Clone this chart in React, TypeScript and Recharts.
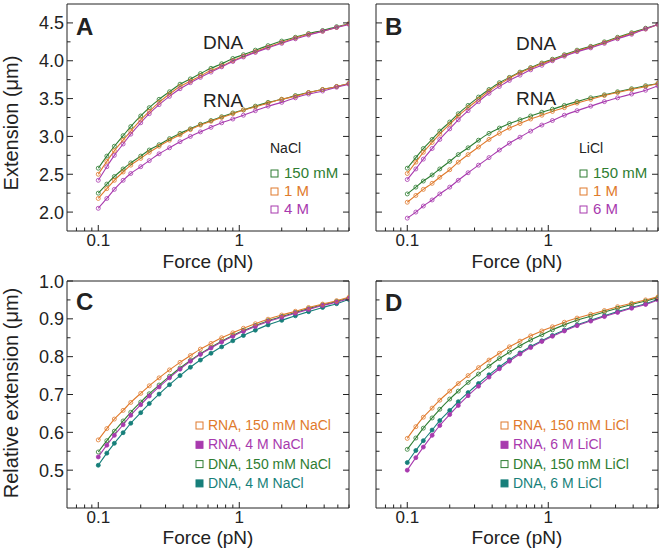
import { ComposedChart, Line, XAxis, YAxis, ReferenceLine } from 'recharts';

// forces (pN) where curves/points were read
const forces = [0.1, 0.115, 0.13, 0.15, 0.17, 0.2, 0.23, 0.27, 0.32, 0.38, 0.45, 0.53, 0.63, 0.75, 0.9, 1.07, 1.3, 1.6, 2, 2.5, 3.1, 3.9, 4.9, 6];

// Panel A - NaCl, extension (um)
const aDna150 = [2.58, 2.74, 2.87, 3.01, 3.13, 3.27, 3.38, 3.49, 3.59, 3.69, 3.76, 3.83, 3.90, 3.96, 4.03, 4.08, 4.14, 4.20, 4.26, 4.31, 4.36, 4.40, 4.45, 4.49];
const aDna1M = [2.50, 2.67, 2.81, 2.95, 3.07, 3.22, 3.33, 3.45, 3.56, 3.66, 3.73, 3.80, 3.87, 3.93, 4.00, 4.06, 4.12, 4.18, 4.24, 4.30, 4.35, 4.39, 4.44, 4.49];
const aDna4M = [2.42, 2.60, 2.75, 2.90, 3.03, 3.18, 3.30, 3.42, 3.53, 3.63, 3.71, 3.78, 3.85, 3.92, 3.99, 4.05, 4.11, 4.17, 4.23, 4.29, 4.34, 4.39, 4.44, 4.48];
const aRna150 = [2.25, 2.37, 2.47, 2.57, 2.65, 2.74, 2.82, 2.89, 2.97, 3.04, 3.10, 3.16, 3.21, 3.26, 3.31, 3.35, 3.40, 3.45, 3.49, 3.54, 3.58, 3.62, 3.66, 3.70];
const aRna1M = [2.18, 2.31, 2.42, 2.53, 2.62, 2.71, 2.79, 2.87, 2.95, 3.02, 3.09, 3.15, 3.20, 3.25, 3.30, 3.35, 3.39, 3.44, 3.49, 3.53, 3.58, 3.62, 3.66, 3.70];
const aRna4M = [2.05, 2.18, 2.30, 2.42, 2.51, 2.60, 2.68, 2.77, 2.85, 2.93, 3.00, 3.06, 3.12, 3.18, 3.23, 3.28, 3.34, 3.40, 3.45, 3.51, 3.56, 3.60, 3.65, 3.69];

// Panel B - LiCl, extension (um)
const bDna150 = [2.58, 2.72, 2.84, 2.96, 3.07, 3.19, 3.30, 3.41, 3.52, 3.62, 3.71, 3.78, 3.85, 3.91, 3.97, 4.02, 4.08, 4.14, 4.19, 4.25, 4.31, 4.37, 4.43, 4.48];
const bDna1M = [2.51, 2.66, 2.79, 2.92, 3.03, 3.16, 3.27, 3.38, 3.49, 3.60, 3.69, 3.77, 3.84, 3.90, 3.96, 4.01, 4.07, 4.13, 4.18, 4.24, 4.30, 4.36, 4.42, 4.48];
const bDna6M = [2.43, 2.57, 2.70, 2.84, 2.96, 3.10, 3.22, 3.34, 3.46, 3.57, 3.66, 3.74, 3.81, 3.88, 3.94, 4.00, 4.06, 4.12, 4.17, 4.23, 4.29, 4.35, 4.42, 4.48];
const bRna150 = [2.24, 2.33, 2.41, 2.49, 2.57, 2.67, 2.76, 2.85, 2.95, 3.04, 3.11, 3.17, 3.22, 3.27, 3.32, 3.36, 3.41, 3.46, 3.51, 3.55, 3.59, 3.63, 3.67, 3.70];
const bRna1M = [2.13, 2.22, 2.30, 2.38, 2.46, 2.56, 2.66, 2.76, 2.86, 2.96, 3.04, 3.11, 3.17, 3.23, 3.28, 3.33, 3.38, 3.44, 3.49, 3.54, 3.58, 3.62, 3.66, 3.70];
const bRna6M = [1.92, 2.00, 2.08, 2.16, 2.24, 2.33, 2.42, 2.52, 2.62, 2.72, 2.82, 2.91, 2.99, 3.07, 3.15, 3.21, 3.28, 3.34, 3.40, 3.46, 3.51, 3.56, 3.61, 3.67];

// Panel C - NaCl, relative extension
const cRna150 = [0.580, 0.610, 0.635, 0.658, 0.679, 0.703, 0.723, 0.744, 0.765, 0.785, 0.803, 0.820, 0.835, 0.850, 0.863, 0.875, 0.887, 0.899, 0.910, 0.920, 0.930, 0.939, 0.948, 0.957];
const cRna4M = [0.535, 0.566, 0.592, 0.620, 0.645, 0.673, 0.696, 0.720, 0.744, 0.767, 0.788, 0.806, 0.823, 0.839, 0.854, 0.867, 0.880, 0.893, 0.904, 0.915, 0.925, 0.935, 0.944, 0.954];
const cDna150 = [0.548, 0.578, 0.603, 0.630, 0.653, 0.680, 0.702, 0.725, 0.748, 0.770, 0.790, 0.808, 0.825, 0.841, 0.856, 0.869, 0.882, 0.895, 0.906, 0.917, 0.927, 0.937, 0.946, 0.955];
const cDna4M = [0.513, 0.545, 0.571, 0.599, 0.624, 0.652, 0.676, 0.701, 0.726, 0.750, 0.772, 0.791, 0.809, 0.826, 0.842, 0.856, 0.870, 0.884, 0.896, 0.908, 0.919, 0.930, 0.940, 0.951];

// Panel D - LiCl, relative extension
const dRna150 = [0.584, 0.615, 0.640, 0.664, 0.685, 0.709, 0.729, 0.750, 0.771, 0.791, 0.809, 0.826, 0.841, 0.855, 0.868, 0.879, 0.891, 0.902, 0.912, 0.922, 0.932, 0.941, 0.950, 0.958];
const dRna6M = [0.500, 0.533, 0.561, 0.592, 0.618, 0.647, 0.671, 0.697, 0.722, 0.746, 0.768, 0.788, 0.807, 0.824, 0.840, 0.854, 0.868, 0.882, 0.894, 0.906, 0.917, 0.928, 0.938, 0.950];
const dDna150 = [0.555, 0.585, 0.611, 0.638, 0.661, 0.688, 0.709, 0.732, 0.754, 0.775, 0.795, 0.812, 0.829, 0.844, 0.858, 0.871, 0.884, 0.896, 0.907, 0.918, 0.928, 0.938, 0.947, 0.956];
const dDna6M = [0.520, 0.552, 0.578, 0.606, 0.631, 0.658, 0.681, 0.705, 0.729, 0.752, 0.773, 0.792, 0.810, 0.827, 0.842, 0.856, 0.870, 0.884, 0.896, 0.908, 0.919, 0.930, 0.940, 0.952];

// tick values
const xTicks = [0.07, 0.08, 0.09, 0.1, 0.2, 0.3, 0.4, 0.5, 0.6, 0.7, 0.8, 0.9, 1, 2, 3, 4, 5, 6];
const xLabels = [0.1, 1];
const absTicks = [2.0, 2.25, 2.5, 2.75, 3.0, 3.25, 3.5, 3.75, 4.0, 4.25, 4.5];
const relTicks = [0.45, 0.5, 0.55, 0.6, 0.65, 0.7, 0.75, 0.8, 0.85, 0.9, 0.95, 1.0];

const GREEN = '#2e7d32';
const ORANGE = '#e07a2c';
const MAGENTA = '#a83aae';
const TEAL = '#177f7a';
const INK = '#222';
const FONT = "'Liberation Sans', Arial, sans-serif";

// chart geometry
const MT = 10; // top margin inside each chart
const CW = 347;
const CH = 282;
const PW = 282; // plot width

type Series = { key: string; color: string; filled?: boolean; values: number[] };

const XTick = ({ x, y, payload }: any) => {
  const major = xLabels.includes(payload.value);
  return (
    <g>
      <line x1={x} x2={x} y1={y} y2={y - (major ? 6 : 3.5)} stroke={INK} strokeWidth={1} />
      {major && (
        <text x={x} y={y + 14.5} textAnchor="middle" fontSize={17} fontFamily={FONT} fill={INK}>
          {payload.value}
        </text>
      )}
    </g>
  );
};

const makeYTick = (majors: number[], showLabel: boolean, digits: number) => ({ x, y, payload }: any) => {
  const major = majors.some((m) => Math.abs(m - payload.value) < 1e-6);
  const len = major ? 6 : 3.5;
  return (
    <g>
      <line x1={x} x2={x + len} y1={y} y2={y} stroke={INK} strokeWidth={1} />
      <line x1={x + PW} x2={x + PW - len} y1={y} y2={y} stroke={INK} strokeWidth={1} />
      {major && showLabel && (
        <text x={x - 3} y={y + 6.5} textAnchor="end" fontSize={18} fontFamily={FONT} fill={INK}>
          {payload.value.toFixed(digits)}
        </text>
      )}
    </g>
  );
};

const Panel = ({ series, yDomain, yTicks, majors, showLabel }: { series: Series[]; yDomain: number[]; yTicks: number[]; majors: number[]; showLabel: boolean }) => {
  const rows = forces.map((f, i) => {
    const row: Record<string, number> = { f };
    series.forEach((s) => {
      row[s.key] = s.values[i];
    });
    return row;
  });
  return (
    <ComposedChart width={CW} height={CH} data={rows} margin={{ top: MT, right: 5, bottom: 0, left: 0 }}>
      <XAxis
        dataKey="f"
        type="number"
        scale="log"
        domain={[0.06, 6]}
        allowDataOverflow
        ticks={xTicks}
        interval={0}
        tick={<XTick />}
        tickLine={false}
        tickSize={0}
        tickMargin={0}
        height={45}
        axisLine={{ stroke: INK }}
      />
      <YAxis
        type="number"
        domain={yDomain}
        allowDataOverflow
        ticks={yTicks}
        interval={0}
        tick={makeYTick(majors, showLabel, 1)}
        tickLine={false}
        tickSize={0}
        tickMargin={0}
        width={60}
        axisLine={{ stroke: INK }}
      />
      <ReferenceLine y={yDomain[1]} stroke={INK} />
      <ReferenceLine x={6} stroke={INK} />
      {series.map((s) => (
        <Line
          key={s.key}
          dataKey={s.key}
          type="monotone"
          stroke={s.color}
          strokeWidth={1.1}
          dot={{ r: 2, stroke: s.color, strokeWidth: 0.8, fill: s.filled ? s.color : 'none' }}
          isAnimationActive={false}
        />
      ))}
    </ComposedChart>
  );
};

const absMajors = [2.0, 2.5, 3.0, 3.5, 4.0, 4.5];
const relMajors = [0.5, 0.6, 0.7, 0.8, 0.9, 1.0];

const panelA: Series[] = [
  { key: 'dna150', color: GREEN, values: aDna150 },
  { key: 'dna1M', color: ORANGE, values: aDna1M },
  { key: 'dna4M', color: MAGENTA, values: aDna4M },
  { key: 'rna150', color: GREEN, values: aRna150 },
  { key: 'rna1M', color: ORANGE, values: aRna1M },
  { key: 'rna4M', color: MAGENTA, values: aRna4M },
];
const panelB: Series[] = [
  { key: 'dna150', color: GREEN, values: bDna150 },
  { key: 'dna1M', color: ORANGE, values: bDna1M },
  { key: 'dna6M', color: MAGENTA, values: bDna6M },
  { key: 'rna150', color: GREEN, values: bRna150 },
  { key: 'rna1M', color: ORANGE, values: bRna1M },
  { key: 'rna6M', color: MAGENTA, values: bRna6M },
];
const panelC: Series[] = [
  { key: 'dna4M', color: TEAL, filled: true, values: cDna4M },
  { key: 'dna150', color: GREEN, values: cDna150 },
  { key: 'rna4M', color: MAGENTA, filled: true, values: cRna4M },
  { key: 'rna150', color: ORANGE, values: cRna150 },
];
const panelD: Series[] = [
  { key: 'dna6M', color: TEAL, filled: true, values: dDna6M },
  { key: 'dna150', color: GREEN, values: dDna150 },
  { key: 'rna6M', color: MAGENTA, filled: true, values: dRna6M },
  { key: 'rna150', color: ORANGE, values: dRna150 },
];

const legendAB = (x: number, title: string, items: { label: string; color: string }[]) => (
  <g fontFamily={FONT}>
    <text x={x} y={153} fill={INK} fontSize={14}>{title}</text>
    {items.map((it, i) => (
      <g key={it.label}>
        <rect x={x + 1} y={170 + i * 18} width={7} height={7} fill="none" stroke={it.color} strokeWidth={1} />
        <text x={x + 14} y={178 + i * 18} fill={it.color} fontSize={15}>{it.label}</text>
      </g>
    ))}
  </g>
);

const legendCD = (x: number, items: { label: string; color: string; filled: boolean }[]) => (
  <g fontFamily={FONT} fontSize={14}>
    {items.map((it, i) => (
      <g key={it.label}>
        <rect x={x} y={422 + i * 19.3} width={7} height={7} fill={it.filled ? it.color : 'none'} stroke={it.color} strokeWidth={1} />
        <text x={x + 12} y={430 + i * 19.3} fill={it.color}>{it.label}</text>
      </g>
    ))}
  </g>
);

export default function App() {
  return (
    <div style={{ position: 'absolute', left: 0, top: 0, width: 661, height: 554, background: '#fff' }}>
      <div style={{ position: 'absolute', left: 7, top: 4 - MT }}>
        <Panel series={panelA} yDomain={[1.75, 4.75]} yTicks={absTicks} majors={absMajors} showLabel />
      </div>
      <div style={{ position: 'absolute', left: 316, top: 4 - MT }}>
        <Panel series={panelB} yDomain={[1.75, 4.75]} yTicks={absTicks} majors={absMajors} showLabel={false} />
      </div>
      <div style={{ position: 'absolute', left: 7, top: 281 - MT }}>
        <Panel series={panelC} yDomain={[0.4, 1.0]} yTicks={relTicks} majors={relMajors} showLabel />
      </div>
      <div style={{ position: 'absolute', left: 316, top: 281 - MT }}>
        <Panel series={panelD} yDomain={[0.4, 1.0]} yTicks={relTicks} majors={relMajors} showLabel={false} />
      </div>
      <svg width={661} height={554} style={{ position: 'absolute', left: 0, top: 0, pointerEvents: 'none' }}>
        <g fontFamily={FONT} fill={INK}>
          <text x={76} y={35} fontSize={24} fontWeight="bold">A</text>
          <text x={385} y={35} fontSize={24} fontWeight="bold">B</text>
          <text x={76} y={310} fontSize={24} fontWeight="bold">C</text>
          <text x={385} y={311} fontSize={24} fontWeight="bold">D</text>
          <text x={223} y={49} fontSize={19} textAnchor="middle">DNA</text>
          <text x={223} y={107} fontSize={19} textAnchor="middle">RNA</text>
          <text x={536} y={50} fontSize={19} textAnchor="middle">DNA</text>
          <text x={536} y={105} fontSize={19} textAnchor="middle">RNA</text>
          <text x={208} y={268} fontSize={19} textAnchor="middle">Force (pN)</text>
          <text x={517} y={268} fontSize={19} textAnchor="middle">Force (pN)</text>
          <text x={208} y={544} fontSize={19} textAnchor="middle">Force (pN)</text>
          <text x={517} y={544} fontSize={19} textAnchor="middle">Force (pN)</text>
          <text transform="translate(18,123) rotate(-90)" fontSize={20} textAnchor="middle">Extension (μm)</text>
          <text transform="translate(18,393) rotate(-90)" fontSize={20} textAnchor="middle">Relative extension (μm)</text>
        </g>
        {legendAB(270, 'NaCl', [
          { label: '150 mM', color: GREEN },
          { label: '1 M', color: ORANGE },
          { label: '4 M', color: MAGENTA },
        ])}
        {legendAB(579, 'LiCl', [
          { label: '150 mM', color: GREEN },
          { label: '1 M', color: ORANGE },
          { label: '6 M', color: MAGENTA },
        ])}
        {legendCD(196, [
          { label: 'RNA, 150 mM NaCl', color: ORANGE, filled: false },
          { label: 'RNA, 4 M NaCl', color: MAGENTA, filled: true },
          { label: 'DNA, 150 mM NaCl', color: GREEN, filled: false },
          { label: 'DNA, 4 M NaCl', color: TEAL, filled: true },
        ])}
        {legendCD(501, [
          { label: 'RNA, 150 mM LiCl', color: ORANGE, filled: false },
          { label: 'RNA, 6 M LiCl', color: MAGENTA, filled: true },
          { label: 'DNA, 150 mM LiCl', color: GREEN, filled: false },
          { label: 'DNA, 6 M LiCl', color: TEAL, filled: true },
        ])}
      </svg>
    </div>
  );
}
